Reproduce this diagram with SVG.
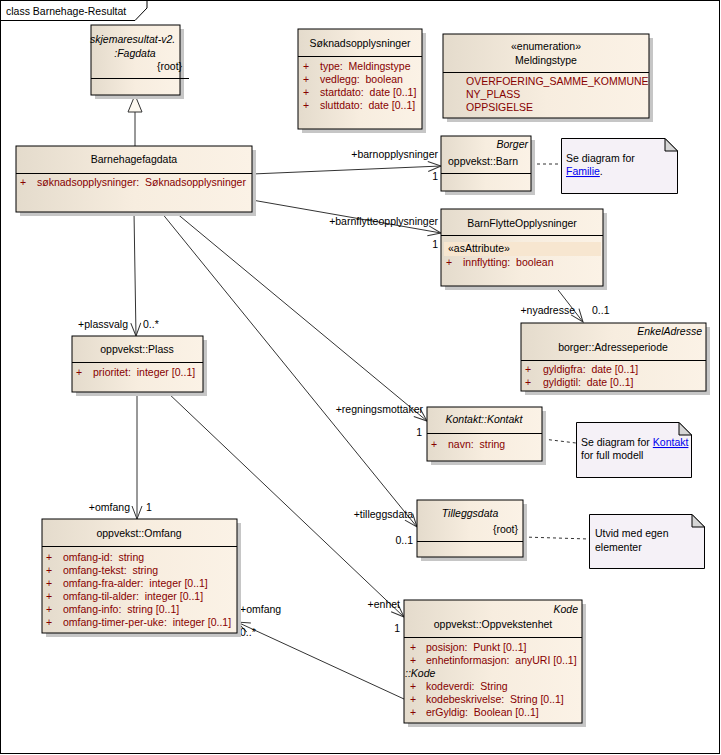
<svg xmlns="http://www.w3.org/2000/svg" width="721" height="755" viewBox="0 0 721 755">
<defs>
<linearGradient id="cg" x1="0" y1="0" x2="1" y2="0">
<stop offset="0" stop-color="#e4dbcc"/>
<stop offset="0.5" stop-color="#f7eddf"/>
<stop offset="1" stop-color="#fbf2e6"/>
</linearGradient>
<marker id="arr" markerUnits="userSpaceOnUse" markerWidth="16" markerHeight="12" refX="13" refY="5" orient="auto" overflow="visible">
<path d="M0,0 L13,5 L0,10" fill="none" stroke="#333" stroke-width="1"/>
</marker>
</defs>
<style>
text{font-family:"Liberation Sans",Arial,sans-serif;font-size:10.5px;fill:#000;white-space:pre}
.a{fill:#870000}
.i{font-style:italic}
.m{text-anchor:middle}
.e{text-anchor:end}
.box{fill:url(#cg);stroke:#000;stroke-width:1}
.sh{fill:#c6c6c6}
.dv{stroke:#000;stroke-width:1}
.note{fill:#f5f1f7;stroke:#000;stroke-width:1}
.ear{fill:#d6d6d6;stroke:#000;stroke-width:1}
.c{fill:none;stroke:#333;stroke-width:1}
.ca{fill:none;stroke:#333;stroke-width:1;marker-end:url(#arr)}
.d{fill:none;stroke:#333;stroke-width:1;stroke-dasharray:3,3}
.lnk{fill:#0000ee;text-decoration:underline}
</style>
<rect width="721" height="755" fill="#fff"/>
<g id="frame">
<rect x="0.5" y="0.5" width="719" height="753" fill="none" stroke="#000"/>
<path d="M0.5,20.5 H135 L147,8 V0.5" fill="none" stroke="#000"/>
<text x="6" y="15">class Barnehage-Resultat</text>
</g>
<g id="connectors">
<path class="c" d="M135,146 V112"/>
<polygon points="135,95 128,112 142,112" fill="#fdf9f0" stroke="#333"/>
<path class="ca" d="M252,174 L441,166"/>
<text class="e" x="438" y="158">+barnopplysninger</text>
<text class="e" x="438" y="180">1</text>
<path class="ca" d="M252,200 L441,233"/>
<text class="e" x="438" y="225">+barnflytteopplysninger</text>
<text class="e" x="438" y="248">1</text>
<path class="ca" d="M555,286 L583,322"/>
<text class="e" x="575" y="314">+nyadresse</text>
<text x="592" y="314">0..1</text>
<path class="ca" d="M134,212 L136,336"/>
<text class="e" x="128" y="328">+plassvalg</text>
<text x="143" y="328">0..*</text>
<path class="ca" d="M175,212 L427,421"/>
<text class="e" x="423" y="413">+regningsmottaker</text>
<text class="e" x="422" y="436">1</text>
<path class="ca" d="M161,212 L417,527"/>
<text class="e" x="413" y="518">+tilleggsdata</text>
<text class="e" x="413" y="544">0..1</text>
<path class="ca" d="M137,392 L137,519"/>
<text class="e" x="130" y="511">+omfang</text>
<text x="146" y="511">1</text>
<path class="ca" d="M167,392 L404,617"/>
<text class="e" x="400" y="608">+enhet</text>
<text class="e" x="400" y="632">1</text>
<path class="ca" d="M404,699 L237,622"/>
<text x="240" y="613">+omfang</text>
<text x="240" y="636">0..*</text>
<path class="d" d="M531,164 L561,164"/>
<path class="d" d="M543,439 L576,443"/>
<path class="d" d="M523,537 L589,539"/>
</g>
<g id="Fagdata">
<rect class="sh" x="95" y="29" width="89" height="70"/>
<rect class="box" x="91" y="25" width="89" height="70"/>
<text class="i" x="90" y="43">skjemaresultat-v2.</text>
<text class="i m" x="135" y="57">:Fagdata</text>
<text x="157" y="70">{root}</text>
<line class="dv" x1="91" y1="78.5" x2="189" y2="78.5"/>
</g>
<g id="Barnehagefagdata">
<rect class="sh" x="20" y="150" width="236" height="66"/>
<rect class="box" x="16" y="146" width="236" height="66"/>
<text class="m" x="134" y="163">Barnehagefagdata</text>
<line class="dv" x1="16" y1="173.5" x2="252" y2="173.5"/>
<text class="a" x="20" y="186">+</text>
<text class="a" x="37" y="186">søknadsopplysninger:  Søknadsopplysninger</text>
</g>
<g id="Soknadsopplysninger">
<rect class="sh" x="302" y="33" width="124" height="100"/>
<rect class="box" x="298" y="29" width="124" height="100"/>
<text class="m" x="360" y="47">Søknadsopplysninger</text>
<line class="dv" x1="298" y1="56.5" x2="422" y2="56.5"/>
<text class="a" x="303" y="70">+</text><text class="a" x="320" y="70">type:  Meldingstype</text>
<text class="a" x="303" y="83">+</text><text class="a" x="320" y="83">vedlegg:  boolean</text>
<text class="a" x="303" y="96">+</text><text class="a" x="320" y="96">startdato:  date [0..1]</text>
<text class="a" x="303" y="109">+</text><text class="a" x="320" y="109">sluttdato:  date [0..1]</text>
</g>
<g id="Meldingstype">
<rect class="sh" x="447" y="38" width="206" height="84"/>
<rect class="box" x="443" y="34" width="206" height="84"/>
<text class="m" x="546" y="50">«enumeration»</text>
<text class="m" x="546" y="64">Meldingstype</text>
<line class="dv" x1="443" y1="72.5" x2="649" y2="72.5"/>
<text class="a" x="466" y="85">OVERFOERING_SAMME_KOMMUNE</text>
<text class="a" x="466" y="98">NY_PLASS</text>
<text class="a" x="466" y="111">OPPSIGELSE</text>
</g>
<g id="Barn">
<rect class="sh" x="445" y="140" width="90" height="55"/>
<rect class="box" x="441" y="136" width="90" height="55"/>
<text class="i e" x="528" y="148">Borger</text>
<text x="448" y="165">oppvekst::Barn</text>
<line class="dv" x1="441" y1="173.5" x2="531" y2="173.5"/>
</g>
<g id="NoteFamilie">
<path class="note" d="M561.5,138.5 H665 L677.5,151 V193.5 H561.5 Z"/>
<path class="ear" d="M665,138.5 V151 H677.5 Z"/>
<text x="566" y="162">Se diagram for</text>
<text x="566" y="175"><tspan class="lnk">Familie</tspan>.</text>
</g>
<g id="BarnFlytteOpplysninger">
<rect class="sh" x="445" y="213" width="162" height="77"/>
<rect class="box" x="441" y="209" width="162" height="77"/>
<text class="m" x="522" y="227">BarnFlytteOpplysninger</text>
<line class="dv" x1="441" y1="235.5" x2="603" y2="235.5"/>
<rect x="444" y="242" width="157" height="14" fill="#f7e6d0"/>
<text x="448" y="252">«asAttribute»</text>
<text class="a" x="446" y="266">+</text><text class="a" x="463" y="266">innflytting:  boolean</text>
</g>
<g id="Adresseperiode">
<rect class="sh" x="525" y="327" width="185" height="68"/>
<rect class="box" x="521" y="323" width="185" height="68"/>
<text class="i e" x="702" y="335">EnkelAdresse</text>
<text class="m" x="613" y="351">borger::Adresseperiode</text>
<line class="dv" x1="521" y1="360.5" x2="706" y2="360.5"/>
<text class="a" x="525" y="373">+</text><text class="a" x="543" y="373">gyldigfra:  date [0..1]</text>
<text class="a" x="525" y="386">+</text><text class="a" x="543" y="386">gyldigtil:  date [0..1]</text>
</g>
<g id="Plass">
<rect class="sh" x="76" y="340" width="131" height="56"/>
<rect class="box" x="72" y="336" width="131" height="56"/>
<text class="m" x="137" y="353">oppvekst::Plass</text>
<line class="dv" x1="72" y1="362.5" x2="203" y2="362.5"/>
<text class="a" x="76" y="376">+</text><text class="a" x="93" y="376">prioritet:  integer [0..1]</text>
</g>
<g id="Kontakt">
<rect class="sh" x="431" y="411" width="115" height="54"/>
<rect class="box" x="427" y="407" width="115" height="54"/>
<text class="i m" x="484" y="423">Kontakt::Kontakt</text>
<line class="dv" x1="427" y1="433.5" x2="542" y2="433.5"/>
<text class="a" x="431" y="448">+</text><text class="a" x="448" y="448">navn:  string</text>
</g>
<g id="NoteKontakt">
<path class="note" d="M576.5,422.5 H679 L691.5,435 V477.5 H576.5 Z"/>
<path class="ear" d="M679,422.5 V435 H691.5 Z"/>
<text x="581" y="446">Se diagram for <tspan class="lnk">Kontakt</tspan></text>
<text x="581" y="459">for full modell</text>
</g>
<g id="Tilleggsdata">
<rect class="sh" x="421" y="504" width="106" height="57"/>
<rect class="box" x="417" y="500" width="106" height="57"/>
<text class="i m" x="470" y="517">Tilleggsdata</text>
<text class="e" x="518" y="533">{root}</text>
<line class="dv" x1="417" y1="541.5" x2="523" y2="541.5"/>
</g>
<g id="NoteTilleggsdata">
<path class="note" d="M589.5,514.5 H692 L704.5,527 V568.5 H589.5 Z"/>
<path class="ear" d="M692,514.5 V527 H704.5 Z"/>
<text x="595" y="537">Utvid med egen</text>
<text x="595" y="551">elementer</text>
</g>
<g id="Omfang">
<rect class="sh" x="46" y="523" width="195" height="114"/>
<rect class="box" x="42" y="519" width="195" height="114"/>
<text class="m" x="139" y="537">oppvekst::Omfang</text>
<line class="dv" x1="42" y1="546.5" x2="237" y2="546.5"/>
<text class="a" x="46" y="561">+</text><text class="a" x="63" y="561">omfang-id:  string</text>
<text class="a" x="46" y="574">+</text><text class="a" x="63" y="574">omfang-tekst:  string</text>
<text class="a" x="46" y="587">+</text><text class="a" x="63" y="587">omfang-fra-alder:  integer [0..1]</text>
<text class="a" x="46" y="600">+</text><text class="a" x="63" y="600">omfang-til-alder:  integer [0..1]</text>
<text class="a" x="46" y="613">+</text><text class="a" x="63" y="613">omfang-info:  string [0..1]</text>
<text class="a" x="46" y="626">+</text><text class="a" x="63" y="626">omfang-timer-per-uke:  integer [0..1]</text>
</g>
<g id="Oppvekstenhet">
<rect class="sh" x="408" y="604" width="178" height="123"/>
<rect class="box" x="404" y="600" width="178" height="123"/>
<text class="i e" x="578" y="613">Kode</text>
<text class="m" x="493" y="628">oppvekst::Oppvekstenhet</text>
<line class="dv" x1="404" y1="637.5" x2="582" y2="637.5"/>
<text class="a" x="410" y="651">+</text><text class="a" x="426" y="651">posisjon:  Punkt [0..1]</text>
<text class="a" x="410" y="664">+</text><text class="a" x="426" y="664">enhetinformasjon:  anyURI [0..1]</text>
<text class="i" x="405" y="677">::Kode</text>
<text class="a" x="410" y="690">+</text><text class="a" x="426" y="690">kodeverdi:  String</text>
<text class="a" x="410" y="703">+</text><text class="a" x="426" y="703">kodebeskrivelse:  String [0..1]</text>
<text class="a" x="410" y="716">+</text><text class="a" x="426" y="716">erGyldig:  Boolean [0..1]</text>
</g>
</svg>
